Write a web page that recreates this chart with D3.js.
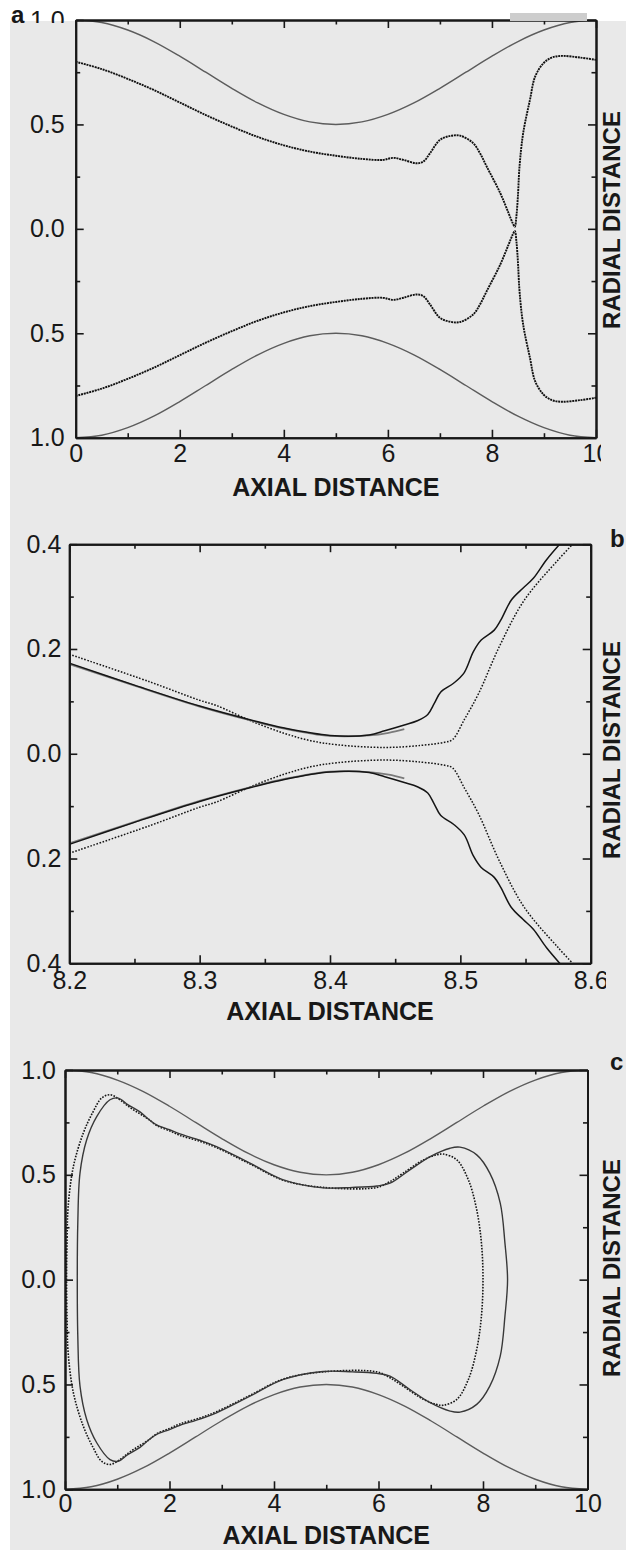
<!DOCTYPE html>
<html>
<head>
<meta charset="utf-8">
<script src="https://cdn.jsdelivr.net/npm/d3@7/dist/d3.min.js"></script>
<style>
  body { margin: 0; background: #fff; }
  svg { display: block; font-family: "Liberation Sans", Arial, sans-serif; }
</style>
</head>
<body>
<div id="figure"></div>
<script>
// values: [axial distance, radial distance], upper half only.
// the lower half of every profile is drawn as its mirror image.
var wallProfile = [[0,1.0],[0.5,0.988],[1,0.952],[1.5,0.897],[2,0.827],[2.5,0.75],[3,0.673],[3.5,0.603],[4,0.548],[4.5,0.512],[5,0.5],
  [5.5,0.512],[6,0.548],[6.5,0.603],[7,0.673],[7.5,0.75],[8,0.827],[8.5,0.897],[9,0.952],[9.5,0.988],[10,1.0]];

var aInterface = [[0,0.80],[0.5,0.765],[1,0.718],[1.5,0.665],[2,0.605],[2.5,0.545],[3,0.49],[3.5,0.44],[4,0.40],[4.5,0.37],[5,0.35],
  [5.5,0.335],[5.9,0.33],[6.1,0.34],[6.3,0.33],[6.55,0.314],[6.68,0.322],[6.81,0.362],[7.0,0.426],[7.2,0.445],[7.39,0.446],
  [7.64,0.41],[7.77,0.362],[7.9,0.298],[8.16,0.171],[8.32,0.075],[8.40,0.027],[8.44,0.01],[8.47,0.06],[8.50,0.16],[8.53,0.298],
  [8.60,0.458],[8.73,0.617],[8.83,0.729],[8.99,0.793],[9.15,0.82],[9.34,0.828],[9.7,0.82],[10,0.809]];

var bSolid = [[8.2,0.173],[8.25,0.131],[8.30,0.091],[8.34,0.064],[8.365,0.049],[8.40,0.035],[8.43,0.036],[8.442,0.044],[8.457,0.055],
  [8.467,0.063],[8.475,0.075],[8.480,0.096],[8.485,0.118],[8.495,0.135],[8.503,0.155],[8.510,0.195],[8.516,0.217],[8.526,0.236],
  [8.531,0.255],[8.539,0.293],[8.548,0.316],[8.556,0.335],[8.566,0.370],[8.578,0.405]];
var bGray = [[8.2,0.171],[8.25,0.130],[8.30,0.090],[8.34,0.063],[8.365,0.048],[8.40,0.034],[8.43,0.035],[8.445,0.040],[8.457,0.047]];
var bDotted = [[8.2,0.19],[8.262,0.137],[8.30,0.102],[8.313,0.092],[8.34,0.062],[8.365,0.039],[8.385,0.025],[8.406,0.017],[8.442,0.012],
  [8.47,0.016],[8.488,0.022],[8.494,0.027],[8.503,0.065],[8.514,0.115],[8.530,0.205],[8.549,0.293],[8.575,0.370],[8.590,0.41]];

// closed drops of panel c: from the left tip (r = 0) over the top to the right tip (r = 0)
var cSolidLoop = [[0.235,0],[0.245,0.27],[0.287,0.508],[0.415,0.667],[0.607,0.778],[0.861,0.858],[1.02,0.866],[1.2,0.835],[1.435,0.80],
  [1.6,0.765],[1.755,0.738],[2.0,0.715],[2.2,0.695],[2.58,0.665],[2.9,0.635],[3.54,0.556],[4.18,0.476],[4.94,0.438],[5.5,0.44],
  [5.97,0.447],[6.22,0.46],[6.6,0.524],[6.99,0.587],[7.37,0.627],[7.56,0.632],[7.88,0.595],[8.13,0.508],[8.33,0.365],[8.42,0.174],[8.47,0]];
var cDottedLoop = [[0.03,0],[0.04,0.2],[0.06,0.348],[0.16,0.539],[0.35,0.699],[0.54,0.802],[0.70,0.866],[0.86,0.882],[1.05,0.858],
  [1.25,0.82],[1.44,0.79],[1.6,0.765],[1.755,0.735],[2.0,0.71],[2.2,0.688],[2.58,0.66],[2.9,0.63],[3.54,0.552],[4.18,0.474],[4.94,0.44],
  [5.97,0.44],[6.22,0.468],[6.47,0.508],[6.86,0.571],[7.11,0.595],[7.24,0.599],[7.50,0.571],[7.72,0.476],[7.88,0.333],[7.97,0.174],[8.0,0]];

// ticks
var aXMajor = [0, 2, 4, 6, 8, 10], aXMinor = [1, 3, 5, 7, 9];
var aYMajor = [-1, -0.5, 0, 0.5, 1], aYMinor = [-0.75, -0.25, 0.25, 0.75];
var bXMajor = [8.2, 8.3, 8.4, 8.5, 8.6], bXMinor = [8.25, 8.35, 8.45, 8.55];
var bYMajor = [-0.4, -0.2, 0, 0.2, 0.4], bYMinor = [-0.3, -0.1, 0.1, 0.3];

var xTitle = "AXIAL DISTANCE", yTitle = "RADIAL DISTANCE";

var W = 626, H = 1550, bg = "#e9e9e9", ink = "#181818";

var svg = d3.select("#figure").append("svg").attr("width", W).attr("height", H);
svg.append("rect").attr("width", W).attr("height", H).attr("fill", "#fff");
svg.append("rect").attr("x", 10).attr("y", 21).attr("width", W - 10).attr("height", H - 21).attr("fill", bg);

var radialFmt = function(d) { return d3.format(".1f")(Math.abs(d)); };

var wallStyle = {stroke: "#5c5c5c", width: 1.4};

var panels = [
  {letter: "a", l: 75.7, r: 596, t: 20, b: 437.7, xDom: [0, 10], yDom: [-1, 1],
   xMajor: aXMajor, xMinor: aXMinor, yMajor: aYMajor, yMinor: aYMinor, xFmt: d3.format("d"),
   xPad: 7, yPad: 11, labelClip: 601, titleDy: 58, radialY: 220, letterAt: [11, 23],
   curves: [
     {data: wallProfile, stroke: wallStyle.stroke, width: wallStyle.width},
     {data: aInterface, stroke: "#111", width: 1.9, dash: "2,0.8"}
   ]},
  {letter: "b", l: 69.3, r: 590.7, t: 544.2, b: 963.3, xDom: [8.2, 8.6], yDom: [-0.4, 0.4],
   xMajor: bXMajor, xMinor: bXMinor, yMajor: bYMajor, yMinor: bYMinor, xFmt: d3.format(".1f"),
   xPad: 8, yPad: 8, labelClip: 606, titleDy: 57, radialY: 750, letterAt: [610, 547],
   curves: [
     {data: bDotted, stroke: "#151515", width: 1.5, dash: "1.6,1.6"},
     {data: bGray, stroke: "#7a7a7a", width: 1.7},
     {data: bSolid, stroke: "#151515", width: 1.5}
   ]},
  {letter: "c", l: 65, r: 587.5, t: 1070, b: 1489.3, xDom: [0, 10], yDom: [-1, 1],
   xMajor: aXMajor, xMinor: aXMinor, yMajor: aYMajor, yMinor: aYMinor, xFmt: d3.format("d"),
   xPad: 5, yPad: 9, labelClip: null, titleDy: 55, radialY: 1268, letterAt: [610, 1070],
   curves: [
     {data: wallProfile, stroke: wallStyle.stroke, width: wallStyle.width},
     {data: cDottedLoop, loop: true, stroke: "#151515", width: 1.6, dash: "1.6,1.4"},
     {data: cSolidLoop, loop: true, stroke: "#383838", width: 1.4}
   ]}
];

function mirror(d) { return [d[0], -d[1]]; }

function styleAxis(sel) {
  sel.attr("font-size", null).attr("font-family", null);
  sel.select(".domain").attr("stroke", ink).attr("stroke-width", 2);
  sel.selectAll(".tick line").attr("stroke", ink).attr("stroke-width", 1.6);
  sel.selectAll(".tick text").attr("fill", ink).style("font-size", "25px");
}

panels.forEach(function(p) {
  var x = d3.scaleLinear().domain(p.xDom).range([p.l, p.r]);
  var y = d3.scaleLinear().domain(p.yDom).range([p.b, p.t]);
  var g = svg.append("g");

  var clipId = "plot-" + p.letter;
  svg.append("clipPath").attr("id", clipId)
    .append("rect").attr("x", p.l).attr("y", p.t).attr("width", p.r - p.l).attr("height", p.b - p.t);

  var plot = g.append("g").attr("clip-path", "url(#" + clipId + ")");
  var line = d3.line().x(function(d) { return x(d[0]); }).y(function(d) { return y(d[1]); })
    .curve(d3.curveCatmullRom.alpha(0.5));
  var loop = d3.line().x(function(d) { return x(d[0]); }).y(function(d) { return y(d[1]); })
    .curve(d3.curveCatmullRomClosed.alpha(0.5));

  p.curves.forEach(function(c) {
    var paths = c.loop
      ? [loop(c.data.concat(c.data.slice(1, -1).reverse().map(mirror)))]
      : [line(c.data), line(c.data.map(mirror))];
    paths.forEach(function(d) {
      plot.append("path").attr("d", d)
        .attr("fill", "none")
        .attr("stroke", c.stroke)
        .attr("stroke-width", c.width)
        .attr("stroke-dasharray", c.dash || null)
        .attr("stroke-linejoin", "round");
    });
  });

  // bottom axis (labels), clipped on the right like the scan
  var bottomWrap = g.append("g");
  if (p.labelClip) {
    var lc = "labels-" + p.letter;
    svg.append("clipPath").attr("id", lc)
      .append("rect").attr("x", 0).attr("y", p.b - 20).attr("width", p.labelClip).attr("height", 60);
    bottomWrap.attr("clip-path", "url(#" + lc + ")");
  }
  bottomWrap.append("g").attr("transform", "translate(0," + p.b + ")")
    .call(d3.axisBottom(x).tickValues(p.xMajor).tickSizeInner(-8).tickSizeOuter(0).tickPadding(p.xPad).tickFormat(p.xFmt))
    .call(styleAxis);
  g.append("g").attr("transform", "translate(0," + p.b + ")")
    .call(d3.axisBottom(x).tickValues(p.xMinor).tickSizeInner(-4.5).tickSizeOuter(0).tickFormat(""))
    .call(styleAxis);

  // top axis
  g.append("g").attr("transform", "translate(0," + p.t + ")")
    .call(d3.axisTop(x).tickValues(p.xMajor).tickSizeInner(-8).tickSizeOuter(0).tickFormat(""))
    .call(styleAxis);
  g.append("g").attr("transform", "translate(0," + p.t + ")")
    .call(d3.axisTop(x).tickValues(p.xMinor).tickSizeInner(-4.5).tickSizeOuter(0).tickFormat(""))
    .call(styleAxis);

  // left axis (labels)
  g.append("g").attr("transform", "translate(" + p.l + ",0)")
    .call(d3.axisLeft(y).tickValues(p.yMajor).tickSizeInner(-8).tickSizeOuter(0).tickPadding(p.yPad).tickFormat(radialFmt))
    .call(styleAxis);
  g.append("g").attr("transform", "translate(" + p.l + ",0)")
    .call(d3.axisLeft(y).tickValues(p.yMinor).tickSizeInner(-4.5).tickSizeOuter(0).tickFormat(""))
    .call(styleAxis);

  // right axis
  g.append("g").attr("transform", "translate(" + p.r + ",0)")
    .call(d3.axisRight(y).tickValues(p.yMajor).tickSizeInner(-8).tickSizeOuter(0).tickFormat(""))
    .call(styleAxis);
  g.append("g").attr("transform", "translate(" + p.r + ",0)")
    .call(d3.axisRight(y).tickValues(p.yMinor).tickSizeInner(-4.5).tickSizeOuter(0).tickFormat(""))
    .call(styleAxis);

  // axis titles
  g.append("text")
    .attr("x", (p.l + p.r) / 2).attr("y", p.b + p.titleDy)
    .attr("text-anchor", "middle").attr("font-weight", "bold").attr("font-size", 25).attr("fill", ink)
    .text(xTitle);
  g.append("text")
    .attr("transform", "translate(620," + p.radialY + ") rotate(-90)")
    .attr("text-anchor", "middle").attr("font-weight", "bold").attr("font-size", 24).attr("fill", ink)
    .text(yTitle);

  // panel letter
  g.append("text")
    .attr("x", p.letterAt[0]).attr("y", p.letterAt[1])
    .attr("font-weight", "bold").attr("font-size", 24).attr("fill", ink)
    .text(p.letter);
});

// the scan cuts off the lower half of the top-left "1.0" label of panel a
svg.append("rect").attr("x", 10).attr("y", 23).attr("width", 63).attr("height", 9).attr("fill", bg);
// smudge at the top right of panel a
svg.append("rect").attr("x", 510).attr("y", 13).attr("width", 77).attr("height", 8).attr("fill", "#cdcdcd");
</script>
</body>
</html>
